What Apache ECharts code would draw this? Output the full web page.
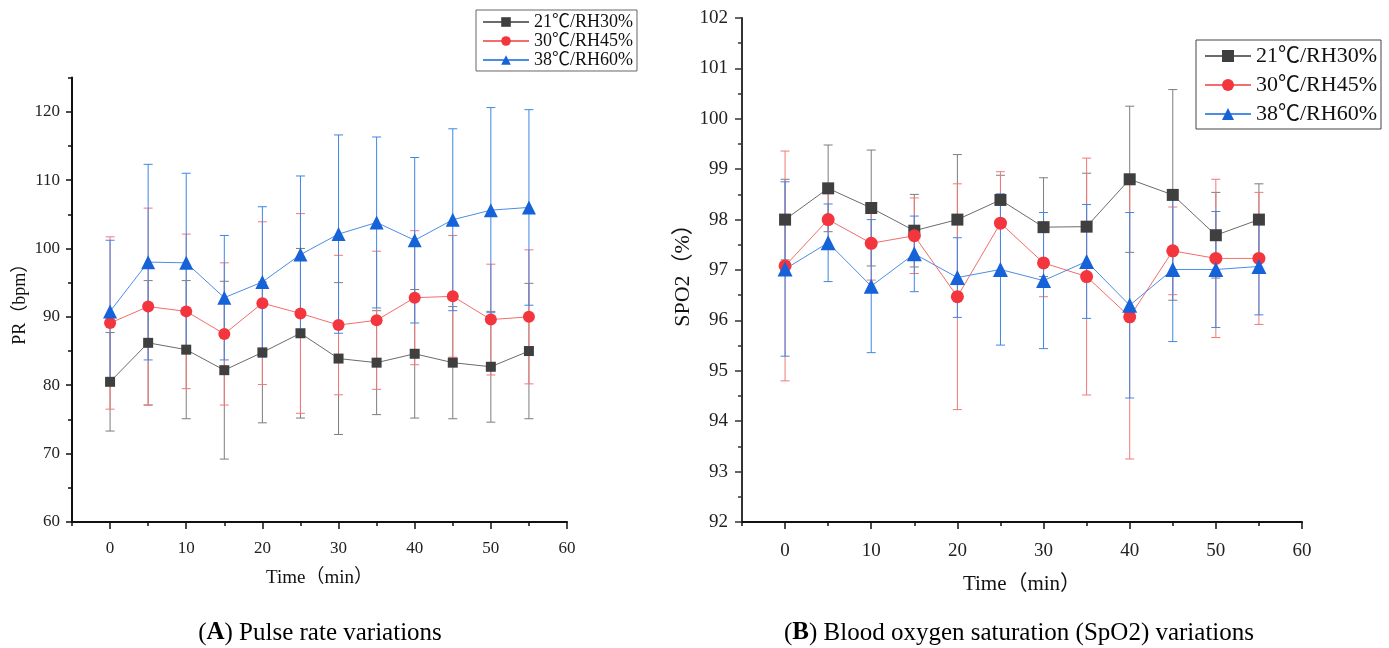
<!DOCTYPE html>
<html>
<head>
<meta charset="utf-8">
<style>
  html, body { margin: 0; padding: 0; background: #fff; }
  #chart { width: 1389px; height: 648px; }
</style>
<script src="https://cdn.jsdelivr.net/npm/echarts@6/dist/echarts.min.js"></script>
</head>
<body>
<div id="chart"></div>
<script>
// time points (min)
const times = [0, 5, 10, 15, 20, 25, 30, 35, 40, 45, 50, 55]
const names = ['21℃/RH30%', '30℃/RH45%', '38℃/RH60%']

// tick labels
const xTicks = [0, 10, 20, 30, 40, 50, 60]
const prTicks = [60, 70, 80, 90, 100, 110, 120]

// (A) pulse rate, mean and sd
const pr21 = [80.5, 86.2, 85.2, 82.2, 84.8, 87.6, 83.9, 83.3, 84.6, 83.3, 82.7, 85.0]
const pr21Sd = [7.2, 9.1, 10.1, 13.0, 10.3, 12.4, 11.1, 7.6, 9.4, 8.2, 8.1, 9.9]
const pr30 = [89.1, 91.5, 90.8, 87.5, 92.0, 90.5, 88.8, 89.5, 92.8, 93.0, 89.6, 90.0]
const pr30Sd = [12.6, 14.4, 11.3, 10.4, 11.9, 14.6, 10.2, 10.1, 9.8, 8.9, 8.1, 9.8]
const pr38 = [90.8, 98.0, 97.9, 92.8, 95.1, 99.1, 102.1, 103.8, 101.2, 104.2, 105.6, 106.0]
const pr38Sd = [10.4, 14.3, 13.1, 9.1, 11.0, 11.5, 14.5, 12.5, 12.1, 13.3, 15.0, 14.3]

// (B) SpO2, mean and sd
const sp21 = [98.0, 98.62, 98.23, 97.78, 98.0, 98.39, 97.85, 97.86, 98.8, 98.49, 97.69, 98.0]
const sp21Sd = [0.8, 0.86, 1.15, 0.72, 1.29, 0.49, 0.98, 1.06, 1.45, 2.09, 0.85, 0.71]
const sp30 = [97.08, 98.0, 97.53, 97.68, 96.47, 97.93, 97.14, 96.87, 96.07, 97.38, 97.23, 97.23]
const sp30Sd = [2.28, 0.57, 0.73, 0.75, 2.24, 1.02, 0.67, 2.35, 2.82, 0.87, 1.57, 1.31]
const sp38 = [97.02, 97.54, 96.68, 97.32, 96.85, 97.01, 96.79, 97.17, 96.3, 97.01, 97.01, 97.07]
const sp38Sd = [1.73, 0.77, 1.32, 0.75, 0.79, 1.5, 1.35, 1.13, 1.84, 1.43, 1.15, 0.96]

const serif = 'Liberation Serif, Noto Sans CJK SC'
const styles = [
  { line: '#6b6b6b', mark: '#3f3f3f', bar: '#7d7d7d', symbol: 'rect' },
  { line: '#f26d6d', mark: '#f3353d', bar: '#f27878', symbol: 'circle' },
  { line: '#4b8de6', mark: '#1662d9', bar: '#3f86e6', symbol: 'triangle' }
]

function pairs(ys) {
  return times.map((t, i) => [t, ys[i]])
}

function bars(ys, sd) {
  return times.map((t, i) => [t, ys[i] - sd[i], ys[i] + sd[i]])
}

function renderBar(color) {
  return function(params, api) {
    const x = api.value(0)
    const top = api.coord([x, api.value(2)])
    const bot = api.coord([x, api.value(1)])
    const w = 4.5
    const st = { stroke: color, lineWidth: 1 }
    return {
      type: 'group',
      children: [
        { type: 'line', shape: { x1: top[0], y1: top[1], x2: bot[0], y2: bot[1] }, style: st },
        { type: 'line', shape: { x1: top[0] - w, y1: top[1], x2: top[0] + w, y2: top[1] }, style: st },
        { type: 'line', shape: { x1: bot[0] - w, y1: bot[1], x2: bot[0] + w, y2: bot[1] }, style: st }
      ]
    }
  }
}

function makeSeries(axis, list, sizes) {
  const out = []
  list.forEach((s, k) => {
    out.push({
      type: 'custom',
      xAxisIndex: axis * 2,
      yAxisIndex: axis * 2,
      z: 1,
      silent: true,
      renderItem: renderBar(styles[k].bar),
      encode: { x: 0, y: [1, 2] },
      data: bars(s[0], s[1])
    })
  })
  list.forEach((s, k) => {
    out.push({
      name: names[k],
      type: 'line',
      xAxisIndex: axis * 2,
      yAxisIndex: axis * 2,
      z: 3,
      symbol: styles[k].symbol,
      symbolSize: sizes[k],
      lineStyle: { color: styles[k].line, width: 1 },
      itemStyle: { color: styles[k].mark },
      data: pairs(s[0])
    })
  })
  return out
}

function xAxes(grid, fs, margin, gap) {
  return [
    {
      gridIndex: grid, type: 'value', position: 'bottom', min: -5, max: 60,
      name: 'Time（min）', nameLocation: 'middle', nameGap: gap,
      nameTextStyle: { fontFamily: serif, fontSize: fs + 2, color: '#111' },
      axisLine: { onZero: false, lineStyle: { color: '#111', width: 2 } },
      axisTick: { customValues: xTicks, length: 7, lineStyle: { color: '#111', width: 1.5 } },
      axisLabel: { customValues: xTicks, margin: margin, fontFamily: serif, fontSize: fs, color: '#222' },
      splitLine: { show: false }
    },
    {
      gridIndex: grid, type: 'value', position: 'bottom', min: -5, max: 60, interval: 5,
      axisLine: { show: false, onZero: false },
      axisTick: { length: 4, lineStyle: { color: '#111', width: 1.5 } },
      axisLabel: { show: false },
      splitLine: { show: false }
    }
  ]
}

const chart = echarts.init(document.getElementById('chart'))

chart.setOption({
  backgroundColor: '#fff',
  animation: false,
  grid: [
    { left: 72, top: 77.5, right: 822, bottom: 126 },
    { left: 742, top: 18, right: 87, bottom: 126 }
  ],
  legend: [
    {
      data: names, orient: 'vertical', left: 476, top: 10,
      padding: [3, 4, 2, 6], itemWidth: 46, itemHeight: 12, itemGap: 1,
      borderColor: '#666', borderWidth: 1,
      textStyle: { fontFamily: serif, fontSize: 18, color: '#111' }
    },
    {
      data: names, orient: 'vertical', left: 1196, top: 40,
      padding: [5, 4, 4, 8], itemWidth: 46, itemHeight: 15, itemGap: 7,
      borderColor: '#444', borderWidth: 1,
      textStyle: { fontFamily: serif, fontSize: 22, color: '#111' }
    }
  ],
  xAxis: [].concat(xAxes(0, 17, 18, 47), xAxes(1, 19, 20, 52)),
  yAxis: [
    {
      gridIndex: 0, type: 'value', position: 'left', min: 60, max: 125,
      name: 'PR（bpm）', nameLocation: 'middle', nameGap: 43,
      nameTextStyle: { fontFamily: serif, fontSize: 18, color: '#111' },
      axisLine: { show: true, onZero: false, lineStyle: { color: '#111', width: 2 } },
      axisTick: { show: true, customValues: prTicks, length: 6, lineStyle: { color: '#111', width: 1.5 } },
      axisLabel: { customValues: prTicks, margin: 12, fontFamily: serif, fontSize: 17, color: '#222' },
      splitLine: { show: false }
    },
    {
      gridIndex: 0, type: 'value', position: 'left', min: 60, max: 125, interval: 5,
      axisLine: { show: false, onZero: false },
      axisTick: { show: true, length: 4, lineStyle: { color: '#111', width: 1.5 } },
      axisLabel: { show: false },
      splitLine: { show: false }
    },
    {
      gridIndex: 1, type: 'value', position: 'left', min: 92, max: 102, interval: 1,
      name: 'SPO2（%）', nameLocation: 'middle', nameGap: 48,
      nameTextStyle: { fontFamily: serif, fontSize: 22, color: '#111' },
      axisLine: { show: true, onZero: false, lineStyle: { color: '#333', width: 2 } },
      axisTick: { show: true, length: 7, lineStyle: { color: '#333', width: 1.5 } },
      minorTick: { show: true, splitNumber: 2, length: 4, lineStyle: { color: '#333', width: 1.5 } },
      axisLabel: { margin: 14, fontFamily: serif, fontSize: 19, color: '#222' },
      splitLine: { show: false }
    },
    {
      gridIndex: 1, type: 'value', min: 92, max: 102, show: false
    }
  ],
  series: [].concat(
    makeSeries(0, [[pr21, pr21Sd], [pr30, pr30Sd], [pr38, pr38Sd]], [10, 12, 14]),
    makeSeries(1, [[sp21, sp21Sd], [sp30, sp30Sd], [sp38, sp38Sd]], [12, 13, 15])
  ),
  graphic: [
    {
      type: 'text', x: 320, y: 633,
      style: {
        text: '({b|A}) Pulse rate variations',
        textAlign: 'center', textVerticalAlign: 'middle',
        fontFamily: 'Liberation Serif', fontSize: 25, fill: '#000',
        rich: { b: { fontFamily: 'Liberation Serif', fontSize: 25, fontWeight: 'bold' } }
      }
    },
    {
      type: 'text', x: 1019, y: 633,
      style: {
        text: '({b|B}) Blood oxygen saturation (SpO2) variations',
        textAlign: 'center', textVerticalAlign: 'middle',
        fontFamily: 'Liberation Serif', fontSize: 25, fill: '#000',
        rich: { b: { fontFamily: 'Liberation Serif', fontSize: 25, fontWeight: 'bold' } }
      }
    }
  ]
})
</script>
</body>
</html>
